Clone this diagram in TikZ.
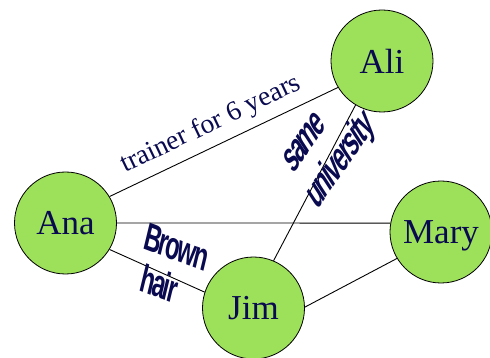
\documentclass[tikz,border=0pt]{standalone}
\usepackage{fontspec}
\setmainfont{Liberation Serif}
\newfontfamily\labfont[LetterSpace=-8]{Liberation Sans}
\definecolor{txt}{RGB}{10,10,80}
\definecolor{grn}{RGB}{157,224,90}
\begin{document}
\begin{tikzpicture}[x=1pt,y=1pt,
  person/.style={circle, draw=black, line width=0.8pt, fill=grn, minimum size=102pt, inner sep=0pt, text=txt, text depth=0pt, font=\fontsize{35}{40}\selectfont},
  edge/.style={draw=black, line width=0.9pt},
  lab/.style={text=txt, inner sep=0pt, anchor=base west, transform shape, font=\labfont\bfseries\fontsize{38}{44}\selectfont}]
\useasboundingbox (0,0) rectangle (490,-358);
\clip (0,0) rectangle (490,-358);
\node[person] (Ali) at (382,-61) {Ali};
\node[person] (Ana) at (65.5,-223) {Ana};
\node[person] (Mary) at (441,-232) {Mary};
\node[person] (Jim) at (253.5,-308) {Jim};
\draw[edge] (Ana.31) -- (Ali.211);
\draw[edge] (Ana.0) -- (Mary.170);
\draw[edge] (Ana.329) -- (Jim.162);
\draw[edge] (Jim.67) -- (Ali.239);
\draw[edge] (Jim.1) -- (Mary.211);
\node[rotate=25.5, anchor=base west, text=txt, inner sep=0pt, font=\fontsize{27.5}{30}\selectfont] (t1) at (125,-173) {trainer for 6 years};
\begin{scope}[cm={0.384,0.549,-0.56,0.86,(317,-211)}]
\node[lab] (u1) at (0,0) {university};
\end{scope}
\begin{scope}[cm={0.384,0.549,-0.56,0.86,(293,-175)}]
\node[lab] (u2) at (0,0) {same};
\end{scope}
\begin{scope}[cm={0.644,-0.247,0.26,1.08,(142,-248)}]
\node[lab, font=\labfont\bfseries\fontsize{35}{40}\selectfont] (b1) at (0,0) {Brown};
\end{scope}
\begin{scope}[cm={0.644,-0.247,0.26,1.08,(138,-290)}]
\node[lab, font=\labfont\bfseries\fontsize{35}{40}\selectfont] (b2) at (0,0) {hair};
\end{scope}
\end{tikzpicture}
\end{document}
